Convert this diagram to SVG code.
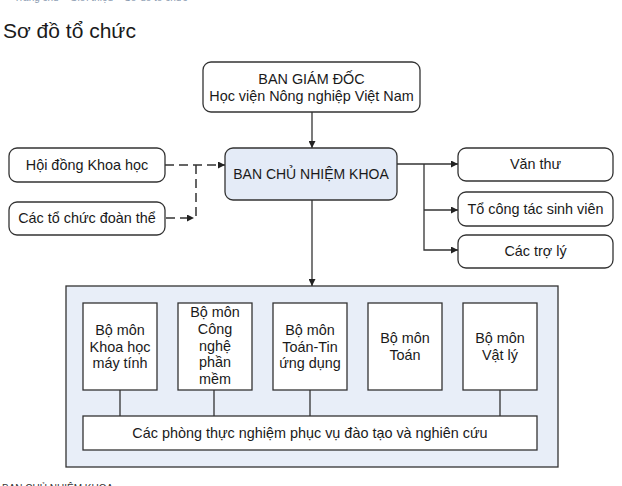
<svg xmlns="http://www.w3.org/2000/svg" width="622" height="486" viewBox="0 0 622 486">
<style>
text{font-family:"Liberation Sans",Arial,sans-serif;fill:#1a1a1a;font-size:14.4px}
.c{text-anchor:middle}
.rb{fill:#fff;stroke:#333;stroke-width:1.3}
.sq{fill:#fff;stroke:#333;stroke-width:1.3}
.ln{fill:none;stroke:#333;stroke-width:1.3}
.dash{fill:none;stroke:#333;stroke-width:1.5;stroke-dasharray:9,5}
</style>
<defs>
<marker id="ah" viewBox="0 0 10 10" refX="10" refY="5" markerWidth="7" markerHeight="7" markerUnits="userSpaceOnUse" orient="auto">
<path d="M0,0 L10,5 L0,10 z" fill="#222"/>
</marker>
</defs>
<rect width="622" height="486" fill="#fff"/>
<text x="14" y="1" style="font-size:10px;fill:#8a9ab0">Trang chủ » Giới thiệu » Sơ đồ tổ chức</text>
<text x="3" y="38" style="font-size:21px">Sơ đồ tổ chức</text>

<g id="container">
<rect x="66" y="286" width="492" height="181" fill="#e8eef8" stroke="#333" stroke-width="1.3"/>
</g>

<g id="connectors">
<path class="ln" d="M312,112 V148" marker-end="url(#ah)"/>
<path class="ln" d="M397,164 H458" marker-end="url(#ah)"/>
<path class="ln" d="M424,164 V250 H458" marker-end="url(#ah)"/>
<path class="ln" d="M424,210 H458" marker-end="url(#ah)"/>
<path class="ln" d="M312,200 V286" marker-end="url(#ah)"/>
<path class="dash" d="M165,165 H225" marker-end="url(#ah)"/>
<path class="dash" d="M196,165 V218"/>
<path class="dash" d="M166,218 H194" marker-end="url(#ah)"/>
<path class="ln" d="M120,390 V416 M214,390 V416 M310,390 V416 M500,390 V416"/>
</g>

<g id="bgd">
<rect class="rb" x="203" y="62" width="217" height="50" rx="8"/>
<text class="c" x="311.5" y="84">BAN GIÁM ĐỐC</text>
<text class="c" x="311.5" y="101">Học viện Nông nghiệp Việt Nam</text>
</g>

<g id="bcn">
<rect x="225" y="148" width="172" height="52" rx="8" fill="#e4ebf7" stroke="#333" stroke-width="1.3"/>
<text class="c" x="311" y="179" style="font-size:14px">BAN CHỦ NHIỆM KHOA</text>
</g>

<g id="hdkh">
<rect class="rb" x="9" y="148" width="156" height="34" rx="8"/>
<text class="c" x="87" y="170">Hội đồng Khoa học</text>
</g>
<g id="tcdt">
<rect class="rb" x="9" y="202" width="156" height="33" rx="8"/>
<text class="c" x="87" y="223">Các tổ chức đoàn thể</text>
</g>

<g id="vanthu">
<rect class="rb" x="458" y="148" width="155" height="33" rx="8"/>
<text class="c" x="535.5" y="169">Văn thư</text>
</g>
<g id="tocongtac">
<rect class="rb" x="458" y="192" width="155" height="34" rx="8"/>
<text class="c" x="535.5" y="214">Tổ công tác sinh viên</text>
</g>
<g id="trodly">
<rect class="rb" x="458" y="235" width="155" height="33" rx="8"/>
<text class="c" x="535.5" y="256">Các trợ lý</text>
</g>

<g id="bm1">
<rect class="sq" x="83" y="303" width="74" height="87"/>
<text class="c" x="120" y="335">Bộ môn</text>
<text class="c" x="120" y="352">Khoa học</text>
<text class="c" x="120" y="368">máy tính</text>
</g>
<g id="bm2">
<rect class="sq" x="178" y="303" width="74" height="87"/>
<text class="c" x="215" y="317">Bộ môn</text>
<text class="c" x="215" y="334">Công</text>
<text class="c" x="215" y="351">nghệ</text>
<text class="c" x="215" y="367">phần</text>
<text class="c" x="215" y="384">mềm</text>
</g>
<g id="bm3">
<rect class="sq" x="273" y="303" width="74" height="87"/>
<text class="c" x="310" y="335">Bộ môn</text>
<text class="c" x="310" y="352">Toán-Tin</text>
<text class="c" x="310" y="368">ứng dụng</text>
</g>
<g id="bm4">
<rect class="sq" x="368" y="303" width="74" height="87"/>
<text class="c" x="405" y="343">Bộ môn</text>
<text class="c" x="405" y="360">Toán</text>
</g>
<g id="bm5">
<rect class="sq" x="463" y="303" width="74" height="87"/>
<text class="c" x="500" y="343">Bộ môn</text>
<text class="c" x="500" y="360">Vật lý</text>
</g>
<g id="phongtn">
<rect class="sq" x="83" y="416" width="454" height="34"/>
<text class="c" x="310" y="438">Các phòng thực nghiệm phục vụ đào tạo và nghiên cứu</text>
</g>
<text x="2" y="492" style="font-size:10px;fill:#333">BAN CHỦ NHIỆM KHOA</text>
</svg>
